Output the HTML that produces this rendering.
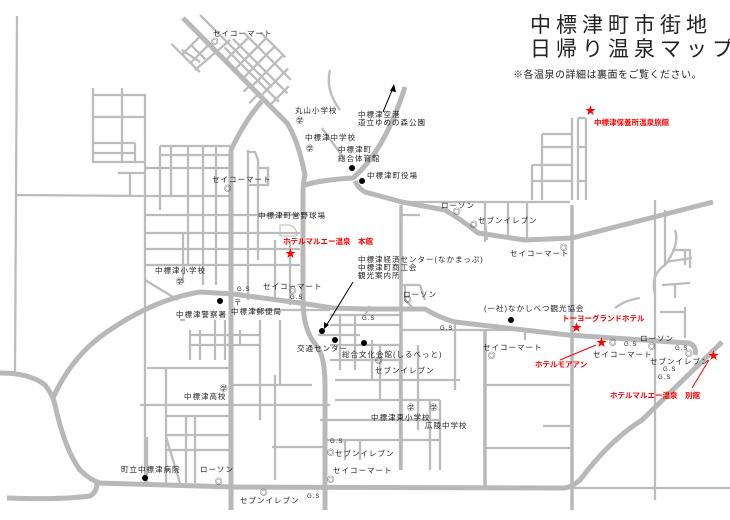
<!DOCTYPE html>
<html><head><meta charset="utf-8"><style>
body{margin:0;background:#fff}
svg{display:block}
text{font-family:"Liberation Sans","Noto Sans CJK JP",sans-serif;font-size:7.5px;fill:#222;letter-spacing:1px}
.r{fill:#f00;font-weight:bold;letter-spacing:0}
.t{font-size:21px;letter-spacing:5px;fill:#222}
</style></head><body>
<svg width="730" height="520" viewBox="0 0 730 520" xmlns="http://www.w3.org/2000/svg">
<g fill="none" stroke="#bcbcbc" stroke-width="2.3">
<path d="M17,16 L15,372 M16,195 L145,196"/>
<path d="M93,88 V162 H145 V95 H93 M122,88 V162 M93,117 H145 M93,143 H135 M93,153 H135 M135,143 V162 M118,173 H145 M130,173 V196 M145,162 V483"/>
<path d="M160,146 H231 M160,146 V210 M171,146 V196 M188,146 V196 M203,146 V196 M216,146 V285 M160,155 H231 M160,168 H231 M145,168 H231 M145,196 H231 M145,215 H300 M145,233 H300 M145,249 H300 M145,265 H300 M183,233 V283 M188,196 V265 M203,196 V285 M248,150 V300 M248,152 H255 L258,160 V168 H268 V185 H248 M258,168 V260 M275,240 V300 M290,240 V305 M145,280 L178,300"/>
<!-- NE diagonal grid -->
<g transform="translate(228,65) rotate(45)">
<path d="M-15,-10 H62 M-15,-22 H62 M-10,-34 H55 M0,-46 H35 M-5,0 V-34 M8,0 V-46 M20,0 V-46 M32,0 V-46 M45,0 V-40 M58,0 V-28 M30,0 L30,8 M42,0 V12"/>
<path d="M-40,0 V25 M-28,0 V25 M-40,12 H-20 M-55,25 H-15"/>
</g>
<path d="M200,15 L272,87 M182,50 L200,62 M195,70 L230,40"/>
<path d="M330,70 Q325,90 340,110 M322,128 L345,160"/>
<path d="M250,310 H330 M190,335 H260 M190,345 H260 M190,330 V360 M200,330 V360 M215,320 V360 M225,320 V360 M240,330 V345 M147,368 H230 M166,368 V483 M140,405 H330 M166,416 H230 M166,435 H230 M166,450 H230 M186,416 V483 M195,416 V483 M147,437 V483 M166,437 L180,483 M232,385 H312 M260,320 V420 M280,320 V385 M275,375 V480 M272,447 H325 M330,315 H400 M330,325 H400 M318,335 H360 M330,345 H400 M330,360 H400 M340,315 V370 M355,315 V370 M372,340 V380 M380,345 V400 M335,380 H460 M335,400 H440 M320,420 H440 M325,440 H440 M345,440 V460 M360,440 V460 M365,315 L370,306 M400,345 V470 M418,345 V430 M430,400 V470 M440,400 V470 M455,320 V390 M400,330 H520 M485,330 V490 M525,330 V340 M485,385 H570 M485,448 H570 M543,426 H570 M415,310 L405,300 V285 L420,285 M420,285 L425,300 M400,215 H420 M400,285 H410 M485,222 L487,240"/>
<path d="M400,202 H570 M485,202 V242 M527,202 V240 M508,202 V239 M572,200 V118 M578,118 V200 M586,118 V200 M578,118 H586 M578,147 H586 M578,181 H586 M542,134 H572 M542,134 V200 M532,165 H572 M532,165 V200 M542,147 H572 M532,181 H572"/>
<path d="M655,200 V500 M655,295 Q650,275 665,265 Q680,245 675,230 M665,210 V265 M665,262 L692,258 M672,250 L690,250 V268 M662,285 L690,283 M675,283 V298 M685,250 V265 M615,308 Q625,300 640,298 M660,312 H685 V338 M685,307 V330 M572,488 H730 M180,320 H185"/>
</g>
<g fill="none" stroke="#b8b8b8" stroke-width="5">
<path d="M183,18 L287,123 Q298,140 305,175 Q303,182 303,195 V300 Q303,330 316,345 Q325,355 325,385 V510"/>
<path d="M305,185 Q320,180 353,178 Q385,150 405,87"/>
<path d="M355,181 Q358,188 365,192 L402,202 L445,210 Q462,220 478,233 L525,240 L572,238 L713,202"/>
<path d="M7,498 Q60,500 90,496 Q97,492 97,483 L233,487 L565,488 Q572,487 580,480 Q610,440 642,420 L722,342"/>
<path d="M53,398 Q70,360 100,337 Q150,300 200,292 L233,294 L300,303 L333,308 L365,309 L425,309 Q440,318 455,322 L568,335 L688,343 Q697,345 695,355"/>
<path d="M0,373 Q30,373 45,385 Q53,395 55,405 Q65,450 80,470 Q90,480 100,483"/>
<path d="M231,510 V150 Q245,120 263,100"/>
<path d="M572,205 V510 M401,205 V470 M485,330 V488" stroke-width="3.5"/>
</g>
<path d="M280,225 H290 Q297,228 297,236 H280 Z" fill="none" stroke="#bbb"/>
<g fill="#000">
<circle cx="352" cy="168" r="3"/><circle cx="362" cy="181" r="3"/><circle cx="220" cy="301" r="3"/>
<circle cx="322" cy="331" r="3"/><circle cx="335" cy="340" r="3"/><circle cx="364" cy="343" r="3"/>
<circle cx="511" cy="320" r="3"/><circle cx="145" cy="478" r="3"/>
</g>
<g stroke="#000" stroke-width="1"><path d="M383,112 L393,88"/><path d="M353,282 L326,326"/></g>
<path d="M394,84 L390,91 L396,92 Z M324,329 L324,322 L329,325 Z" fill="#000"/>
<g stroke="#f00" stroke-width="1"><path d="M560,360 L596,345 M692,388 L709,360"/></g>
<g>
<text x="285" y="257" style="fill:#f00;font-size:11px;letter-spacing:0">★</text>
<text x="585" y="114" style="fill:#f00;font-size:11px;letter-spacing:0">★</text>
<text x="571" y="331" style="fill:#f00;font-size:11px;letter-spacing:0">★</text>
<text x="596" y="346" style="fill:#f00;font-size:11px;letter-spacing:0">★</text>
<text x="708" y="359" style="fill:#f00;font-size:11px;letter-spacing:0">★</text>
</g>
<text class="t" x="530" y="32">中標津町市街地</text>
<text class="t" x="530" y="56">日帰り温泉マップ</text>
<text x="513" y="78" style="font-size:10px;letter-spacing:0.5px">※各温泉の詳細は裏面をご覧ください。</text>
<text class="r" x="594" y="125">中標津保養所温泉旅館</text>
<text class="r" x="283" y="244">ホテルマルエー温泉　本館</text>
<text class="r" x="562" y="321">トーヨーグランドホテル</text>
<text class="r" x="535" y="367">ホテルモアアン</text>
<text class="r" x="610" y="398">ホテルマルエー温泉　別館</text>
<text x="213" y="36">セイコーマート</text>
<text x="295" y="113">丸山小学校</text>
<text x="305" y="140">中標津中学校</text>
<text x="358" y="117">中標津空港</text>
<text x="358" y="125">道立ゆめの森公園</text>
<text x="338" y="152">中標津町</text>
<text x="338" y="161">総合体育館</text>
<text x="367" y="178">中標津町役場</text>
<text x="212" y="182">セイコーマート</text>
<text x="258" y="218">中標津町営野球場</text>
<text x="441" y="208">ローソン</text>
<text x="478" y="223">セブンイレブン</text>
<text x="510" y="256">セイコーマート</text>
<text x="358" y="262">中標津経済センター(なかまっぷ)</text>
<text x="358" y="270">中標津町商工会</text>
<text x="358" y="278">観光案内所</text>
<text x="155" y="273">中標津小学校</text>
<text x="237" y="291" style="font-size:6px">G.S</text>
<text x="263" y="289">セイコーマート</text>
<text x="290" y="299" style="font-size:6px">G.S</text>
<text x="176" y="317">中標津警察署</text>
<text x="231" y="314">中標津郵便局</text>
<text x="403" y="297">ローソン</text>
<text x="484" y="311">(一社)なかしべつ観光協会</text>
<text x="362" y="320" style="font-size:6px">G.S</text>
<text x="440" y="330" style="font-size:6px">G.S</text>
<text x="624" y="346" style="font-size:6px">G.S</text>
<text x="640" y="341">ローソン</text>
<text x="297" y="351">交通センター</text>
<text x="342" y="357">総合文化会館(しるべっと)</text>
<text x="483" y="350">セイコーマート</text>
<text x="593" y="357">セイコーマート</text>
<text x="675" y="350" style="font-size:6px">G.S</text>
<text x="650" y="364">セブンイレブン</text>
<text x="663" y="371" style="font-size:6px">G.S</text>
<text x="658" y="379" style="font-size:6px">G.S</text>
<text x="375" y="373">セブンイレブン</text>
<text x="184" y="399">中標津高校</text>
<text x="371" y="420">中標津東小学校</text>
<text x="425" y="428">広陵中学校</text>
<text x="330" y="443" style="font-size:6px">G.S</text>
<text x="335" y="456">セブンイレブン</text>
<text x="333" y="473">セイコーマート</text>
<text x="121" y="472">町立中標津病院</text>
<text x="200" y="472">ローソン</text>
<text x="240" y="503">セブンイレブン</text>
<text x="307" y="498" style="font-size:6px">G.S</text>
<g style="font-size:6px;fill:#888">
<text x="211" y="44">◎</text><text x="296" y="123">㊫</text><text x="306" y="151">㊫</text>
<text x="224" y="191">◎</text><text x="453" y="214">◎</text><text x="470" y="227">◎</text>
<text x="560" y="250">◎</text><text x="176" y="284">㊫</text><text x="234" y="305">〒</text>
<text x="289" y="293">◎</text><text x="404" y="302">◎</text><text x="488" y="358">◎</text>
<text x="609" y="345">◎</text><text x="648" y="349">◎</text><text x="685" y="356">◎</text>
<text x="375" y="363">◎</text><text x="220" y="391">㊫</text><text x="407" y="410">㊫</text>
<text x="430" y="410">㊫</text><text x="327" y="455">◎</text><text x="327" y="482">◎</text>
<text x="215" y="484">◎</text><text x="260" y="495">◎</text>
</g>
</svg>
</body></html>
